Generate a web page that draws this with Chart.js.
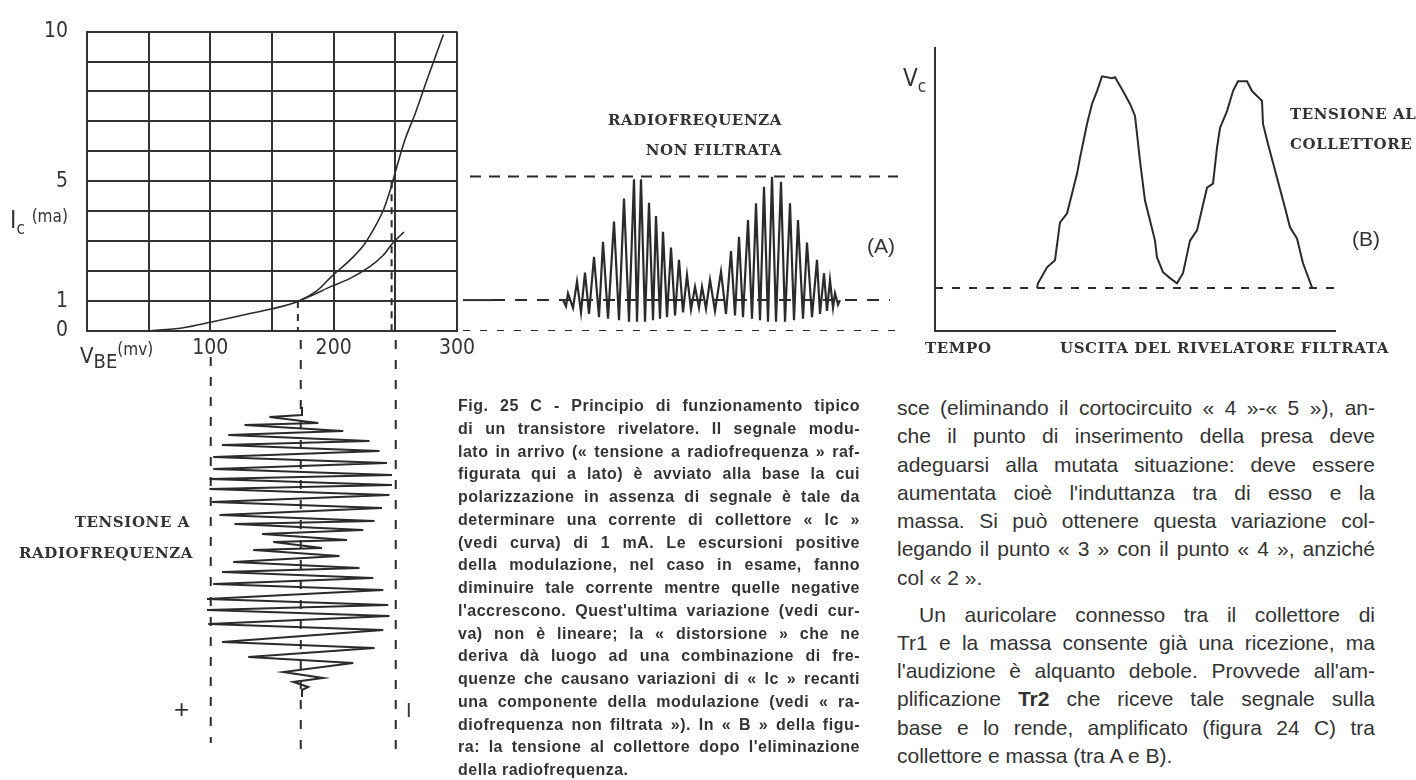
<!DOCTYPE html>
<html>
<head>
<meta charset="utf-8">
<script src="https://cdn.jsdelivr.net/npm/chart.js@4.4.1/dist/chart.umd.min.js"></script>
<style>
  body { margin: 0; background: #fff; }
  #page { position: relative; width: 1416px; height: 780px; overflow: hidden; color: #222;
          font-family: 'Liberation Sans', Arial, sans-serif; }
  canvas { position: absolute; }
  .t { position: absolute; white-space: nowrap; }
  .caps { font-family: 'DejaVu Serif', serif; font-weight: bold; font-size: 15px; letter-spacing: 0.6px; color: #333; }
  .narrow { font-family: 'Liberation Sans Narrow', 'DejaVu Sans Condensed', sans-serif; color: #333; }
  .para div { text-align: justify; text-align-last: justify; white-space: nowrap; }
  .para div.end { text-align-last: left; }
  #caption { position: absolute; left: 458px; top: 395px; width: 402px; font-weight: bold;
             font-size: 16px; letter-spacing: 0.5px; line-height: 22.75px; color: #333; }
  #body { position: absolute; left: 897px; top: 394px; width: 478px; font-size: 21px;
          line-height: 28.3px; color: #333; }
</style>
</head>
<body>
<div id="page">
  <canvas id="icChart" width="480" height="400" style="left:0;top:0"></canvas>
  <canvas id="rfChart" width="445" height="345" style="left:463px;top:0"></canvas>
  <canvas id="vbeChart" width="480" height="420" style="left:0;top:335px"></canvas>
  <canvas id="vcChart" width="420" height="345" style="left:930px;top:0"></canvas>

  <div class="t narrow" style="left:10px;top:206px;font-size:24px">I<sub style="font-size:17px">c</sub> <span style="font-size:17px;position:relative;top:-6px">(ma)</span></div>
  <div class="t narrow" style="left:80px;top:343px;font-size:22px">V<sub style="font-size:20px">BE</sub><span style="font-size:17px;position:relative;top:-8px">(mv)</span></div>

  <div class="t caps" style="left:0;top:513px;width:190px;text-align:right">TENSIONE A</div>
  <div class="t caps" style="left:0;top:544px;width:193px;text-align:right">RADIOFREQUENZA</div>
  <div class="t" style="left:174px;top:694px;font-size:26px;color:#333">+</div>
  <div class="t" style="left:406px;top:699px;font-size:20px;color:#333">I</div>

  <div class="t caps" style="left:560px;top:111px;width:222px;text-align:right">RADIOFREQUENZA</div>
  <div class="t caps" style="left:560px;top:141px;width:222px;text-align:right">NON FILTRATA</div>
  <div class="t" style="left:867px;top:234px;font-size:21px;color:#333">(A)</div>

  <div class="t narrow" style="left:903px;top:64px;font-size:24px">V<sub style="font-size:17px">c</sub></div>
  <div class="t caps" style="left:1290px;top:105px">TENSIONE AL</div>
  <div class="t caps" style="left:1290px;top:135px">COLLETTORE</div>
  <div class="t" style="left:1352px;top:227px;font-size:21px;color:#333">(B)</div>
  <div class="t caps" style="left:925px;top:339px">TEMPO</div>
  <div class="t caps" style="left:1060px;top:339px">USCITA DEL RIVELATORE FILTRATA</div>

  <div id="caption" class="para">
    <div>Fig. 25 C - Principio di funzionamento tipico</div>
    <div>di un transistore rivelatore. Il segnale modu-</div>
    <div>lato in arrivo (« tensione a radiofrequenza » raf-</div>
    <div>figurata qui a lato) è avviato alla base la cui</div>
    <div>polarizzazione in assenza di segnale è tale da</div>
    <div>determinare una corrente di collettore « Ic »</div>
    <div>(vedi curva) di 1 mA. Le escursioni positive</div>
    <div>della modulazione, nel caso in esame, fanno</div>
    <div>diminuire tale corrente mentre quelle negative</div>
    <div>l'accrescono. Quest'ultima variazione (vedi cur-</div>
    <div>va) non è lineare; la « distorsione » che ne</div>
    <div>deriva dà luogo ad una combinazione di fre-</div>
    <div>quenze che causano variazioni di « Ic » recanti</div>
    <div>una componente della modulazione (vedi « ra-</div>
    <div>diofrequenza non filtrata »). In « B » della figu-</div>
    <div>ra: la tensione al collettore dopo l'eliminazione</div>
    <div class="end">della radiofrequenza.</div>
  </div>

  <div id="body" class="para">
    <div>sce (eliminando il cortocircuito « 4 »-« 5 »), an-</div>
    <div>che il punto di inserimento della presa deve</div>
    <div>adeguarsi alla mutata situazione: deve essere</div>
    <div>aumentata cioè l'induttanza tra di esso e la</div>
    <div>massa. Si può ottenere questa variazione col-</div>
    <div>legando il punto « 3 » con il punto « 4 », anziché</div>
    <div class="end">col « 2 ».</div>
    <div style="margin-top:8.5px;padding-left:22px">Un auricolare connesso tra il collettore di</div>
    <div>Tr1 e la massa consente già una ricezione, ma</div>
    <div>l'audizione è alquanto debole. Provvede all'am-</div>
    <div>plificazione <b>Tr2</b> che riceve tale segnale sulla</div>
    <div>base e lo rende, amplificato (figura 24 C) tra</div>
    <div class="end">collettore e massa (tra A e B).</div>
  </div>
</div>

<script>
// Ic (mA) vs VBE (mV) characteristic
const vbeMin = 0, vbeMax = 300;
const icMin = 0, icMax = 10;
const icTickLabels = [0, 1, 5, 10];
const vbeTickLabels = [100, 200, 300];

const curveSteepVbe = [50, 77, 101, 125, 150, 170, 186, 198, 213, 224, 232, 240, 246, 250, 258, 266, 277, 289];
const curveSteepIc  = [0, 0.1, 0.3, 0.52, 0.74, 0.97, 1.33, 1.81, 2.36, 2.85, 3.37, 4.01, 4.72, 5.31, 6.41, 7.25, 8.54, 9.9];
const curveFlatVbe  = [170, 184, 198, 213, 229, 240, 248, 257];
const curveFlatIc   = [0.97, 1.22, 1.49, 1.75, 2.14, 2.52, 2.94, 3.3];

// working point and swing of the base voltage
const vbeRest = 171, vbeLow = 99, vbeHigh = 247;
const icRest = 1, icPeak = 5;

// input signal (tensione a radiofrequenza), time goes downward
const vbeTime = [72, 80, 82, 88, 90, 96, 100, 106, 110, 116, 122, 128, 134, 140, 144, 150, 154, 160,
  167, 173, 180, 186, 189, 195, 199, 205, 207, 213, 215, 221, 227, 233, 237, 243, 249, 255, 264, 270,
  275, 281, 289, 295, 307, 313, 322, 328, 337, 343, 347, 352, 355, 362];
const vbeSignal = [172, 172, 146, 185, 126, 205, 113, 226, 108, 234, 101, 240, 101, 244, 98, 244, 98, 242,
  100, 236, 106, 230, 118, 221, 140, 208, 149, 188, 133, 202, 117, 218, 108, 229, 101, 237, 96, 241,
  96, 242, 97, 237, 108, 230, 129, 213, 157, 189, 165, 177, 172, 172];

// collector current, unfiltered (A)
const rfTime = [100, 103, 105, 110, 114, 118, 122, 126, 131, 136, 140, 145, 151, 156, 161, 166, 171, 174,
  178, 182, 186, 190, 193, 197, 200, 204, 208, 212, 216, 220, 224, 228, 232, 236, 239, 243, 247, 252,
  258, 263, 268, 272, 276, 280, 285, 289, 293, 297, 301, 305, 309, 313, 318, 322, 327, 331, 335, 340,
  344, 349, 354, 357, 361, 364, 367, 370, 372, 375, 377];
const rfCurrent = [1.0, 0.8, 1.22, 0.75, 1.6, 0.6, 1.89, 0.55, 2.4, 0.45, 2.89, 0.4, 3.54, 0.35, 4.29, 0.3, 4.91, 0.3,
  4.91, 0.3, 4.15, 0.35, 3.72, 0.4, 3.21, 0.45, 2.7, 0.5, 2.3, 0.6, 1.81, 0.7, 1.43, 0.75, 1.43, 0.72, 1.65, 0.65,
  1.92, 0.55, 2.59, 0.5, 3.05, 0.45, 3.59, 0.4, 4.13, 0.35, 4.67, 0.3, 4.99, 0.3, 4.83, 0.3, 4.13, 0.35, 3.59, 0.4,
  2.86, 0.45, 2.3, 0.55, 1.87, 0.65, 1.65, 0.75, 1.22, 0.85, 1.0];
const rfTimeMax = 445;

// filtered collector voltage (B)
const vcTime = [102, 103, 112, 120, 125, 132, 142, 145, 152, 157, 162, 167, 177, 180, 188, 195, 200, 202, 205,
  210, 215, 220, 222, 228, 235, 242, 248, 255, 262, 272, 278, 282, 285, 292, 298, 303, 312, 317, 327, 328,
  333, 342, 350, 355, 362, 368, 377];
const vcVolt = [1.4, 1.55, 2.07, 2.3, 3.53, 3.82, 5.11, 5.63, 6.73, 7.38, 7.8, 8.28, 8.22, 8.25, 7.8, 7.38, 6.99,
  6.41, 5.53, 4.24, 3.59, 2.94, 2.39, 1.91, 1.72, 1.55, 1.88, 2.94, 3.27, 4.66, 4.79, 5.95, 6.6, 7.15, 7.8,
  8.12, 8.12, 7.8, 7.48, 6.73, 6.08, 4.98, 4.01, 3.37, 3.01, 2.2, 1.42];
const vcRest = 1.4;
const vcTimeMax = 400, vcMax = 9.2;

const ink = '#2b2b2b';
const tickFont = { family: "'Liberation Sans Narrow', 'DejaVu Sans Condensed', sans-serif", size: 21 };

function pts(xs, ys) {
  return xs.map((x, i) => ({ x: x, y: ys[i] }));
}
function line(data, opts) {
  return Object.assign({ data: data, showLine: true, pointRadius: 0, borderColor: ink,
    borderWidth: 1.6, tension: 0, fill: false }, opts || {});
}
const hidden = { display: false };

new Chart(document.getElementById('icChart'), {
  type: 'scatter',
  data: {
    datasets: [
      line(pts(curveSteepVbe, curveSteepIc), { tension: 0.3 }),
      line(pts(curveFlatVbe, curveFlatIc), { tension: 0.3 }),
      line([{ x: vbeRest, y: icRest }, { x: vbeRest, y: icMin }], { borderDash: [7, 6], borderWidth: 2 }),
      line([{ x: vbeHigh, y: icPeak }, { x: vbeHigh, y: icMin }], { borderDash: [7, 6], borderWidth: 2 })
    ]
  },
  options: {
    responsive: false,
    animation: false,
    layout: { padding: { top: 22, right: 18, left: 0, bottom: 0 } },
    plugins: { legend: hidden, tooltip: { enabled: false } },
    scales: {
      x: {
        type: 'linear', min: vbeMin, max: vbeMax,
        ticks: { stepSize: 50, autoSkip: false, maxRotation: 0, padding: 5, color: '#333', font: tickFont,
          callback: v => vbeTickLabels.includes(v) ? String(v) : '' },
        grid: { color: '#333', lineWidth: 2, drawTicks: false },
        border: { color: '#333', width: 2 },
        afterFit: s => { s.height = 69; }
      },
      y: {
        min: icMin, max: icMax,
        ticks: { stepSize: 1, autoSkip: false, padding: 19, color: '#333', font: tickFont,
          callback: v => icTickLabels.includes(v) ? String(v) : '' },
        grid: { color: '#333', lineWidth: 2, drawTicks: false },
        border: { color: '#333', width: 2 },
        afterFit: s => { s.width = 87; }
      }
    }
  }
});

new Chart(document.getElementById('rfChart'), {
  type: 'scatter',
  data: {
    datasets: [
      line([{ x: 7, y: icPeak }, { x: 435, y: icPeak }], { borderDash: [11, 8], borderWidth: 2 }),
      line([{ x: 0, y: icRest }, { x: 30, y: icRest }], { borderWidth: 2 }),
      line([{ x: 30, y: icRest }, { x: 427, y: icRest }], { borderDash: [12, 10], borderWidth: 2 }),
      line([{ x: 0, y: icMin }, { x: 432, y: icMin }], { borderDash: [7, 10], borderWidth: 2 }),
      line(pts(rfTime, rfCurrent), { borderWidth: 2.2 })
    ]
  },
  options: {
    responsive: false,
    animation: false,
    layout: { padding: { top: 22, right: 0, left: 0, bottom: 14 } },
    plugins: { legend: hidden, tooltip: { enabled: false } },
    scales: {
      x: { type: 'linear', min: 0, max: rfTimeMax, display: false },
      y: { min: icMin, max: icMax, display: false }
    }
  }
});

new Chart(document.getElementById('vbeChart'), {
  type: 'scatter',
  data: {
    datasets: [
      line([{ x: vbeLow, y: 22 }, { x: vbeLow, y: 408 }], { borderDash: [9, 11], borderWidth: 2 }),
      line([{ x: vbeRest, y: 5 }, { x: vbeRest, y: 422 }], { borderDash: [9, 11], borderWidth: 2 }),
      line([{ x: vbeHigh, y: 5 }, { x: vbeHigh, y: 415 }], { borderDash: [9, 11], borderWidth: 2 }),
      line(pts(vbeSignal, vbeTime), { borderWidth: 2 })
    ]
  },
  options: {
    responsive: false,
    animation: false,
    layout: { padding: { top: 0, right: 18, left: 87, bottom: 0 } },
    plugins: { legend: hidden, tooltip: { enabled: false } },
    scales: {
      x: { type: 'linear', min: vbeMin, max: vbeMax, display: false },
      y: { min: 0, max: 420, reverse: true, display: false }
    }
  }
});

new Chart(document.getElementById('vcChart'), {
  type: 'scatter',
  data: {
    datasets: [
      line([{ x: 0, y: vcRest }, { x: vcTimeMax, y: vcRest }], { borderDash: [8, 9], borderWidth: 2 }),
      line(pts(vcTime, vcVolt), { borderWidth: 2 })
    ]
  },
  options: {
    responsive: false,
    animation: false,
    layout: { padding: { top: 48, right: 15, left: 5, bottom: 14 } },
    plugins: { legend: hidden, tooltip: { enabled: false } },
    scales: {
      x: { type: 'linear', min: 0, max: vcTimeMax,
        ticks: { display: false }, grid: { display: false, drawTicks: false },
        border: { color: '#333', width: 2 }, afterFit: s => { s.height = 0; } },
      y: { min: 0, max: vcMax,
        ticks: { display: false }, grid: { display: false, drawTicks: false },
        border: { color: '#333', width: 2 }, afterFit: s => { s.width = 0; } }
    }
  }
});
</script>
</body>
</html>
